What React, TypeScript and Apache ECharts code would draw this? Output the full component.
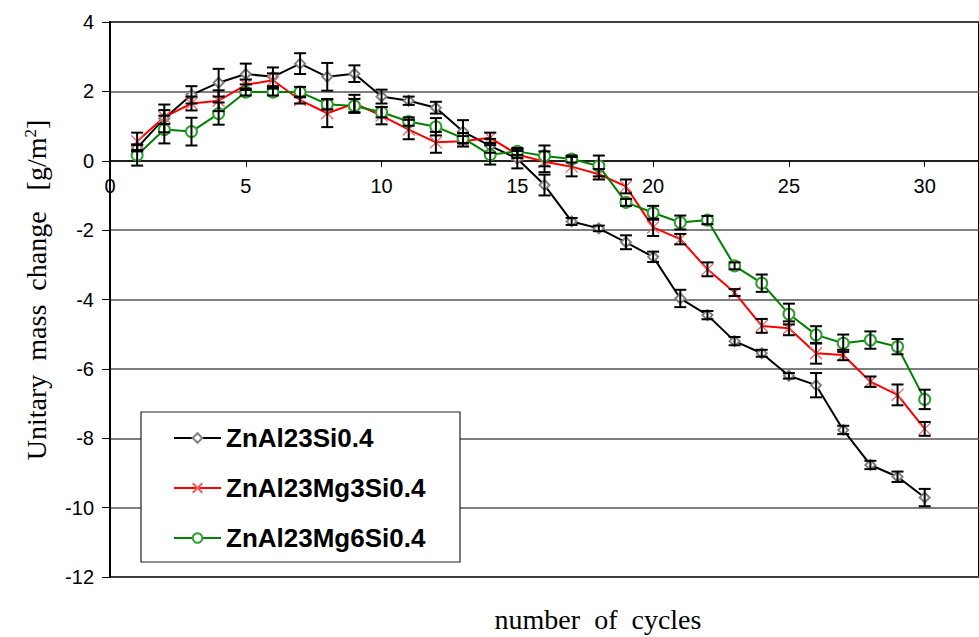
import React, { useEffect, useRef } from "react";
import * as echarts from "echarts";

const cycles = [1,2,3,4,5,6,7,8,9,10,11,12,13,14,15,16,17,18,19,20,21,22,23,24,25,26,27,28,29,30];
const seriesNames = ["ZnAl23Si0.4", "ZnAl23Mg3Si0.4", "ZnAl23Mg6Si0.4"];

const znAl23Si = [0.37, 1.22, 1.9, 2.25, 2.5, 2.42, 2.8, 2.42, 2.51, 1.85, 1.73, 1.53, 0.84, 0.43, 0.06, -0.7, -1.75, -1.95, -2.35, -2.77, -3.97, -4.45, -5.2, -5.55, -6.2, -6.47, -7.76, -8.77, -9.11, -9.71];
const znAl23Mg3Si = [0.56, 1.26, 1.65, 1.73, 2.19, 2.32, 1.75, 1.37, 1.65, 1.3, 0.9, 0.53, 0.56, 0.66, 0.18, -0.03, -0.17, -0.39, -0.74, -1.92, -2.26, -3.13, -3.8, -4.76, -4.83, -5.55, -5.6, -6.37, -6.75, -7.73];
const znAl23Mg6Si = [0.16, 0.9, 0.84, 1.36, 1.98, 1.98, 1.98, 1.63, 1.58, 1.4, 1.13, 0.98, 0.65, 0.17, 0.27, 0.14, 0.05, -0.15, -1.2, -1.5, -1.78, -1.71, -3.03, -3.53, -4.42, -5.02, -5.26, -5.17, -5.36, -6.88];

const znAl23SiErr = [0.1, 0.4, 0.25, 0.4, 0.3, 0.27, 0.3, 0.4, 0.24, 0.2, 0.12, 0.17, 0.33, 0.2, 0.28, 0.3, 0.1, 0.08, 0.2, 0.15, 0.25, 0.12, 0.12, 0.1, 0.08, 0.35, 0.12, 0.12, 0.15, 0.25];
const znAl23Mg3SiErr = [0.25, 0.2, 0.2, 0.3, 0.15, 0.2, 0.1, 0.4, 0.25, 0.25, 0.28, 0.3, 0.15, 0.15, 0.1, 0.3, 0.28, 0.15, 0.2, 0.25, 0.15, 0.2, 0.1, 0.2, 0.2, 0.3, 0.15, 0.15, 0.3, 0.2];
const znAl23Mg6SiErr = [0.3, 0.4, 0.4, 0.32, 0.1, 0.1, 0.15, 0.15, 0.2, 0.15, 0.12, 0.25, 0.15, 0.28, 0.1, 0.3, 0.1, 0.3, 0.1, 0.2, 0.2, 0.12, 0.1, 0.25, 0.3, 0.25, 0.25, 0.25, 0.22, 0.28];

const yTitle = "Unitary  mass  change   [g/m";
const xTitle = "number  of  cycles";

const SANS = "'Liberation Sans', Arial, sans-serif";
const SERIF = "'Liberation Serif', 'Times New Roman', serif";

const GRID_TOP = 22;
const GRID_BOTTOM = 60;
const CHART_H = 637;
const Y_MIN = -12;
const Y_MAX = 4;
// distance from the plot's bottom edge to the value-0 line, so the x axis sits on zero
const zeroOffset = -((CHART_H - GRID_TOP - GRID_BOTTOM) * (0 - Y_MIN)) / (Y_MAX - Y_MIN);

function lineSeries(name: string, values: number[], lineColor: string, symbol: string, symbolSize: number, itemStyle: any) {
  return {
    type: "line",
    name,
    data: cycles.map((c, i) => [c, values[i]]),
    symbol,
    symbolSize,
    lineStyle: { color: lineColor, width: 2 },
    itemStyle,
    z: 2,
  };
}

function errSeries(values: number[], errs: number[]) {
  return {
    type: "custom",
    silent: true,
    z: 3,
    data: cycles.map((c, i) => [c, values[i], errs[i]]),
    encode: { x: 0, y: 1 },
    renderItem: (params: any, api: any) => {
      const x = api.value(0);
      const y = api.value(1);
      const e = api.value(2);
      const top = api.coord([x, y + e]);
      const bot = api.coord([x, y - e]);
      const hw = 6;
      const st = { stroke: "#000", lineWidth: 2 };
      return {
        type: "group",
        children: [
          { type: "line", shape: { x1: top[0], y1: top[1], x2: bot[0], y2: bot[1] }, style: st },
          { type: "line", shape: { x1: top[0] - hw, y1: top[1], x2: top[0] + hw, y2: top[1] }, style: st },
          { type: "line", shape: { x1: bot[0] - hw, y1: bot[1], x2: bot[0] + hw, y2: bot[1] }, style: st },
        ],
      };
    },
  };
}

export default function App() {
  const ref = useRef<HTMLDivElement>(null);
  useEffect(() => {
    if (!ref.current) return;
    const chart = echarts.init(ref.current, null, { renderer: "svg" });
    chart.setOption({
      animation: false,
      backgroundColor: "#fff",
      textStyle: { fontFamily: SANS },
      grid: {
        left: 110,
        right: -2,
        top: GRID_TOP,
        bottom: GRID_BOTTOM,
        containLabel: false,
        show: true,
        borderColor: "#000",
        borderWidth: 2,
        backgroundColor: "transparent",
      },
      xAxis: {
        type: "value",
        min: 0,
        max: 32,
        interval: 5,
        position: "bottom",
        offset: zeroOffset,
        axisLine: { show: true, onZero: false, lineStyle: { color: "#000", width: 1.5 } },
        axisTick: { show: true, length: 6, lineStyle: { color: "#000", width: 1 } },
        axisLabel: {
          show: true,
          margin: 15,
          fontSize: 20,
          color: "#000",
          fontFamily: SANS,
          showMaxLabel: false,
          formatter: (v: number) => (v % 5 === 0 ? String(v) : ""),
        },
        splitLine: { show: false },
      },
      yAxis: {
        type: "value",
        min: Y_MIN,
        max: Y_MAX,
        interval: 2,
        axisLine: { show: true, onZero: false, lineStyle: { color: "#000", width: 2 } },
        axisTick: { show: true, length: 8, lineStyle: { color: "#000", width: 1 } },
        axisLabel: { margin: 16, fontSize: 20, color: "#000", fontFamily: SANS },
        splitLine: { show: true, lineStyle: { color: "#555", width: 1.5 } },
      },
      legend: {
        data: seriesNames,
        orient: "vertical",
        left: 173,
        top: 425,
        itemWidth: 47,
        itemHeight: 12,
        itemGap: 24,
        itemTextGap: 5,
        padding: 0,
        z: 20,
        textStyle: { fontSize: 26, fontWeight: "bold", color: "#000", fontFamily: SANS },
      },
      graphic: [
        {
          type: "rect",
          z: 10,
          shape: { x: 141, y: 412, width: 319, height: 150 },
          style: { fill: "#fff", stroke: "#222", lineWidth: 1.2 },
        },
        {
          type: "text",
          x: 36,
          y: 290,
          rotation: Math.PI / 2,
          style: {
            text: "{a|" + yTitle + "}{s|2}{a|]}",
            align: "center",
            verticalAlign: "middle",
            rich: {
              a: { fontSize: 28, fontFamily: SERIF, fill: "#000" },
              s: { fontSize: 17, fontFamily: SERIF, fill: "#000", verticalAlign: "top", padding: [0, 0, 10, 0] },
            },
          },
        },
        {
          type: "text",
          x: 598,
          y: 619,
          style: {
            text: xTitle,
            align: "center",
            verticalAlign: "middle",
            fontSize: 28,
            fontFamily: SERIF,
            fill: "#000",
          },
        },
      ],
      series: [
        lineSeries(seriesNames[0], znAl23Si, "#000", "emptyDiamond", 10, { color: "#808080", borderWidth: 1 }),
        lineSeries(seriesNames[1], znAl23Mg3Si, "#ff0000", "path://M0,0L10,10M10,0L0,10", 12, { color: "#ff5a5a", borderColor: "#ff5a5a", borderWidth: 1.2 }),
        lineSeries(seriesNames[2], znAl23Mg6Si, "#008000", "emptyCircle", 11, { color: "#30a030", borderWidth: 1 }),
        errSeries(znAl23Si, znAl23SiErr),
        errSeries(znAl23Mg3Si, znAl23Mg3SiErr),
        errSeries(znAl23Mg6Si, znAl23Mg6SiErr),
      ],
    });
    return () => chart.dispose();
  }, []);
  return <div ref={ref} style={{ position: "absolute", left: 0, top: 0, width: 979, height: 637 }} />;
}
